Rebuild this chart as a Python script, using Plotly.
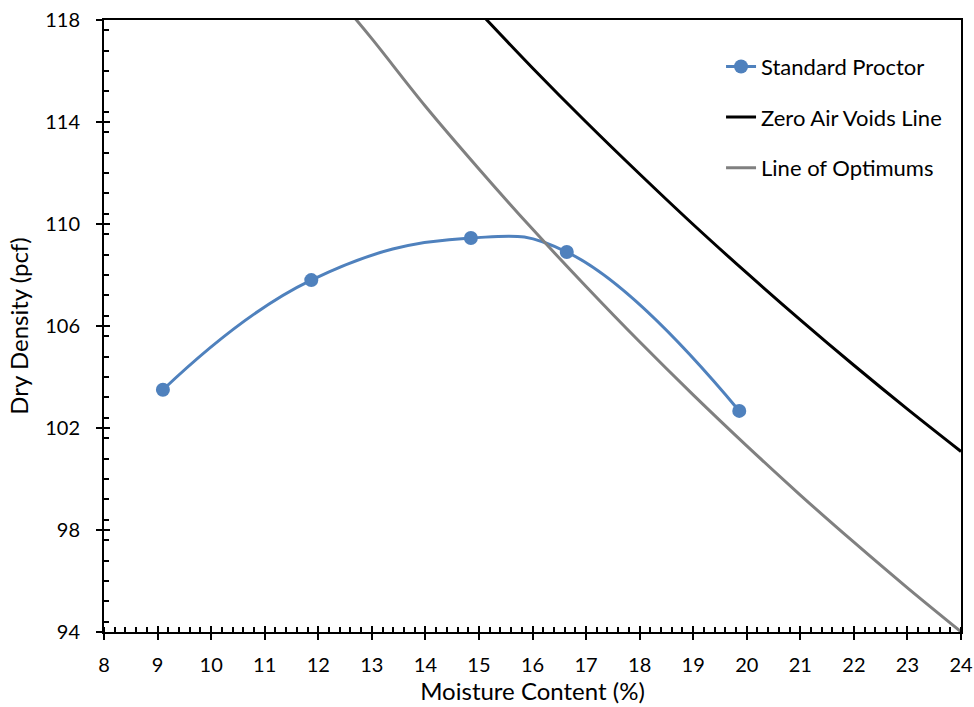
import plotly.graph_objects as go

# Standard Proctor test points
proctor_w = [9.1, 11.87, 14.85, 16.64, 19.86]
proctor_d = [103.5, 107.8, 109.45, 108.9, 102.67]

# Zero Air Voids line
zav_w = [15, 16, 17, 18, 19, 20, 21, 22, 23, 24]
zav_d = [118.33, 116.12, 114.0, 111.96, 109.98, 108.08, 106.24, 104.46, 102.74, 101.08]

# Line of Optimums
opt_w = [12.5, 13, 14, 15, 16, 17, 18, 19, 20, 21, 22, 23, 24]
opt_d = [118.53, 117.27, 114.62, 112.16, 109.8, 107.55, 105.38, 103.3, 101.3, 99.37, 97.52, 95.73, 94.01]

x_ticks = list(range(8, 25))
y_ticks = [94, 98, 102, 106, 110, 114, 118]

FONT = "Lato"

fig = go.Figure()
fig.add_trace(go.Scatter(x=proctor_w, y=proctor_d, mode="lines+markers", name="Standard Proctor",
                         line=dict(color="#4F81BD", width=3, shape="spline", smoothing=1.25),
                         marker=dict(color="#4F81BD", size=14), legendgroup="a"))
fig.add_trace(go.Scatter(x=zav_w, y=zav_d, mode="lines", name="Zero Air Voids Line",
                         line=dict(color="#000000", width=3, shape="spline"), legendgroup="b"))
fig.add_trace(go.Scatter(x=opt_w, y=opt_d, mode="lines", name="Line of Optimums",
                         line=dict(color="#808080", width=3, shape="spline"), legendgroup="c"))
# invisible helper trace so the overlay (inside-tick) axes are drawn
fig.add_trace(go.Scatter(x=[x_ticks[0]], y=[y_ticks[0]], xaxis="x2", yaxis="y2", mode="markers",
                         marker=dict(opacity=0), showlegend=False, hoverinfo="skip"))

axis_common = dict(showgrid=False, zeroline=False, showline=True, linecolor="black", linewidth=2,
                   mirror=True, ticks="outside", ticklen=6, tickwidth=2, tickcolor="black",
                   automargin=False,
                   tickfont=dict(family=FONT, size=20, color="black"))

fig.update_layout(
    width=974, height=707,
    margin=dict(l=104, r=13, t=20, b=75),
    plot_bgcolor="white", paper_bgcolor="white",
    xaxis=dict(range=[8, 24], tickvals=x_ticks, ticklabelstandoff=8,
               minor=dict(dtick=0.2, ticks="inside", ticklen=5, tickcolor="black", tickwidth=1.5),
               title=dict(text="Moisture Content (%)", font=dict(family=FONT, size=24, color="black"), standoff=6),
               **axis_common),
    yaxis=dict(range=[94, 118], tickvals=y_ticks, ticklabelstandoff=12,
               minor=dict(dtick=0.8, ticks="inside", ticklen=5, tickcolor="black", tickwidth=1.5),
               title=dict(text="Dry Density (pcf)", font=dict(family=FONT, size=24, color="black"), standoff=10),
               **axis_common),
    xaxis2=dict(overlaying="x", range=[8, 24], tickvals=x_ticks, ticks="inside", ticklen=6,
                tickwidth=2, tickcolor="black", showticklabels=False, showline=False, showgrid=False,
                zeroline=False, anchor="y2", side="bottom", automargin=False),
    yaxis2=dict(overlaying="y", range=[94, 118], tickvals=y_ticks, ticks="inside", ticklen=6,
                tickwidth=2, tickcolor="black", showticklabels=False, showline=False, showgrid=False,
                zeroline=False, anchor="x2", side="left", automargin=False),
    legend=dict(x=0.72, y=0.958, xanchor="left", yanchor="top", bgcolor="rgba(0,0,0,0)",
                font=dict(family=FONT, size=22, color="black"), traceorder="grouped", tracegroupgap=19),
    showlegend=True,
)

fig.write_html("out.html", config={"displayModeBar": False},
               post_script="document.body.style.margin='0px';document.body.style.overflow='hidden';")
